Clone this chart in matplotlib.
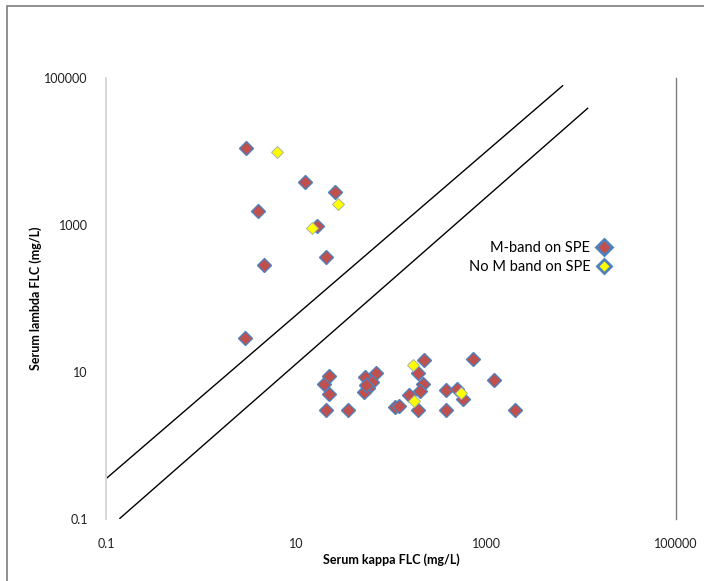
import numpy as np
import matplotlib
matplotlib.use("Agg")
import matplotlib.pyplot as plt
from matplotlib.lines import Line2D
from matplotlib.patches import Rectangle

plt.rcParams['font.family'] = ['Lato', 'DejaVu Sans']

# --- data ---
# M-band on SPE: serum kappa / lambda FLC (mg/L)
mband_kappa = [3.0, 12.4, 25.5, 4.0, 16.7, 20.6, 4.6, 2.94,
               19.7, 22.5, 22.1, 20.8, 35.6, 53.5, 68.8, 63.1, 57.5, 51.6, 54.6,
               110, 121, 154, 224, 192, 217, 202, 192, 379, 379, 501, 567,
               727, 1213, 2040]
mband_lambda = [11300, 3810, 2810, 1550, 977, 371, 286, 29.1,
                6.97, 8.82, 5.05, 3.0, 3.0, 8.47, 9.73, 7.31, 6.1, 5.35, 6.65,
                3.33, 3.5, 4.9, 14.7, 9.8, 6.93, 5.51, 3.0, 5.69, 3.0, 5.83, 4.35,
                14.8, 7.89, 3.0]

# No M band on SPE
nomband_kappa = [6.3, 27.5, 14.7, 171, 174, 546]
nomband_lambda = [9840, 1930, 902, 12.6, 4.03, 5.18]

# reference ratio lines (end points)
upper_kappa = [0.103, 6410]
upper_lambda = [0.365, 78500]
lower_kappa = [0.140, 11750]
lower_lambda = [0.102, 38700]

tick_vals = [0.1, 10, 1000, 100000]
tick_labels = ['0.1', '10', '1000', '100000']

# --- figure ---
fig = plt.figure(figsize=(7.04, 5.81), dpi=100)
ax = fig.add_axes([106 / 704, 1 - 519 / 581, 570 / 704, 441 / 581])

ax.plot(upper_kappa, upper_lambda, color='black', lw=1.0, zorder=2)
ax.plot(lower_kappa, lower_lambda, color='black', lw=1.0, zorder=2)

ax.plot(mband_kappa, mband_lambda, ls='none', marker='D', ms=6.8,
        mfc='#C0504D', mec='#4F81BD', mew=1.0, zorder=3)
ax.plot(nomband_kappa, nomband_lambda, ls='none', marker='D', ms=6.2,
        mfc='#FFFF00', mec='#A9B4A0', mew=0.7, zorder=4)

ax.set_xscale('log')
ax.set_yscale('log')
ax.set_xlim(0.1, 100000)
ax.set_ylim(0.1, 100000)
ax.set_xticks(tick_vals)
ax.set_xticklabels(tick_labels)
ax.set_yticks(tick_vals)
ax.set_yticklabels(tick_labels)
ax.minorticks_off()
ax.tick_params(axis='both', length=0, labelsize=9, colors='#202020')
ax.tick_params(axis='x', pad=14)
ax.tick_params(axis='y', pad=13)

for s in ['top', 'bottom']:
    ax.spines[s].set_visible(False)
ax.spines['left'].set_color('#D0D0D0')
ax.spines['left'].set_linewidth(1.2)
ax.spines['right'].set_color('#7F7F7F')
ax.spines['right'].set_linewidth(1.0)

ax.set_xlabel('Serum kappa FLC (mg/L)', fontsize=9, fontweight='bold', labelpad=2)
ax.set_ylabel('Serum lambda FLC (mg/L)', fontsize=9, fontweight='bold', labelpad=2)

handles = [
    Line2D([], [], ls='none', marker='D', ms=8, mfc='#C0504D', mec='#4F81BD', mew=2.0),
    Line2D([], [], ls='none', marker='D', ms=7, mfc='#FFFF00', mec='#4F81BD', mew=2.0),
]
ax.legend(handles, ['M-band on SPE', 'No M band on SPE'], loc='center left',
          bbox_to_anchor=(0.626, 0.592), frameon=False, markerfirst=False,
          fontsize=10.5, handlelength=0.8, handletextpad=0.5, labelspacing=0.35,
          borderaxespad=0)

# outer chart border (only top and left edges are inside the image)
fig.add_artist(Rectangle((7.5 / 704, -0.1), 2, 1 - 6 / 581 + 0.1,
                         transform=fig.transFigure, fill=False,
                         edgecolor='#878787', lw=1.3))

fig.savefig('out.png', dpi=100)
